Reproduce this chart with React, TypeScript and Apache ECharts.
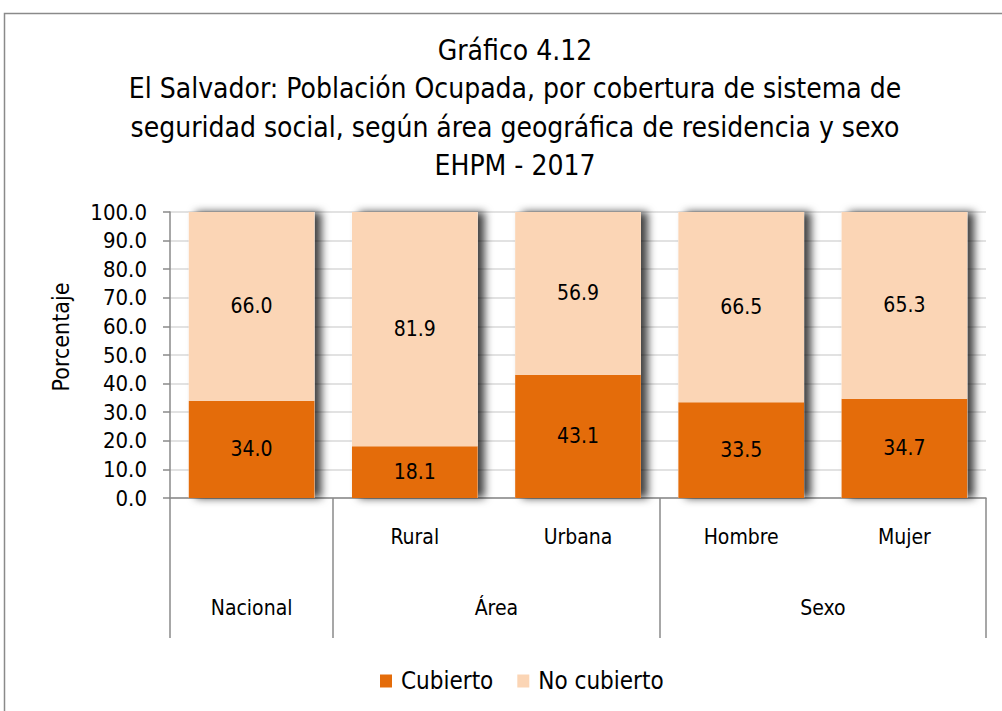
import React, { useEffect, useRef } from "react";
import * as echarts from "echarts";

const categories = ["Nacional", "Rural", "Urbana", "Hombre", "Mujer"];
const subLabels = ["", "Rural", "Urbana", "Hombre", "Mujer"];
const groups = ["Nacional", "Área", "Sexo"];
const groupSpans = [1, 2, 2];
const cubierto = [34.0, 18.1, 43.1, 33.5, 34.7];
const noCubierto = [66.0, 81.9, 56.9, 66.5, 65.3];
const yTicks = [0, 10, 20, 30, 40, 50, 60, 70, 80, 90, 100];
const titleLines = [
  "Gráfico 4.12",
  "El Salvador: Población Ocupada, por cobertura de sistema de",
  "seguridad social, según área geográfica de residencia y sexo",
  "EHPM - 2017",
];

const FONT = "'Liberation Sans Narrow', 'DejaVu Sans Condensed', 'Roboto', sans-serif";

export default function App() {
  const ref = useRef<HTMLDivElement>(null);
  useEffect(() => {
    if (!ref.current) return;
    const chart = echarts.init(ref.current, null, { renderer: "svg" });

    const bounds: number[] = [0];
    groupSpans.forEach((s) => bounds.push(bounds[bounds.length - 1] + s));
    const centers = groupSpans.map((s, i) => bounds[i] + s / 2);
    const totals = cubierto.map((v, i) => +(v + noCubierto[i]).toFixed(1));

    const labelCfg = {
      show: true,
      position: "inside",
      fontSize: 21,
      color: "#000",
      fontFamily: FONT,
      formatter: (p: any) => Number(p.value).toFixed(1),
    };

    chart.setOption({
      animation: false,
      textStyle: { fontFamily: FONT },
      graphic: [
        {
          type: "rect",
          shape: { x: 4.5, y: 13.5, width: 1100, height: 800 },
          style: { fill: "none", stroke: "#8a8a8a", lineWidth: 1.5 },
          silent: true,
        },
        {
          type: "text",
          x: 515,
          y: 31,
          style: {
            text: titleLines.join("\n"),
            textAlign: "center",
            fontFamily: FONT,
            fontSize: 28,
            lineHeight: 38.5,
            fill: "#000",
          },
        },
      ],
      legend: {
        data: ["Cubierto", "No cubierto"],
        left: 375,
        top: 664,
        icon: "rect",
        itemWidth: 12,
        itemHeight: 13,
        itemGap: 24,
        textStyle: { fontFamily: FONT, fontSize: 24, color: "#000", padding: [0, 0, 0, 4] },
      },
      grid: { left: 170, top: 212, right: 16, bottom: 213, containLabel: false },
      xAxis: [
        {
          type: "category",
          data: subLabels,
          axisLine: { lineStyle: { color: "#8a8a8a", width: 1.5 } },
          axisTick: { length: 67, interval: 0, lineStyle: { color: "#8a8a8a", width: 1.5 } },
          axisLabel: {
            interval: 0,
            margin: 28,
            fontSize: 21,
            color: "#000",
            fontFamily: FONT,
          },
        },
        {
          type: "value",
          min: 0,
          max: categories.length,
          position: "bottom",
          axisLine: { show: false },
          splitLine: { show: false },
          axisTick: {
            show: true,
            length: 140,
            customValues: bounds,
            lineStyle: { color: "#8a8a8a", width: 1.5 },
          },
          axisLabel: {
            show: true,
            margin: 99,
            fontSize: 21,
            color: "#000",
            fontFamily: FONT,
            customValues: centers,
            formatter: (v: number) => {
              const i = centers.findIndex((c) => Math.abs(c - v) < 1e-6);
              return i >= 0 ? groups[i] : "";
            },
          },
        },
      ],
      yAxis: {
        type: "value",
        min: 0,
        max: 100,
        interval: 10,
        name: "Porcentaje",
        nameLocation: "middle",
        nameGap: 98,
        nameTextStyle: { fontSize: 23, color: "#000", fontFamily: FONT, padding: [0, 0, 0, 36] },
        axisLine: { show: true, lineStyle: { color: "#8a8a8a", width: 1.5 } },
        axisTick: { show: true, length: 7, lineStyle: { color: "#8a8a8a", width: 1.5 } },
        splitLine: { lineStyle: { color: "#d9d9d9", width: 1.5 } },
        axisLabel: {
          margin: 23,
          fontSize: 22,
          color: "#000",
          fontFamily: FONT,
          formatter: (v: number) => (yTicks.includes(v) ? v.toFixed(1) : ""),
        },
      },
      series: [
        {
          name: "sombra",
          type: "bar",
          xAxisIndex: 0,
          barCategoryGap: "23%",
          barGap: "-100%",
          data: totals,
          silent: true,
          z: 1,
          itemStyle: {
            color: "#ffffff",
            shadowColor: "rgba(0,0,0,0.75)",
            shadowBlur: 8,
            shadowOffsetX: 7,
            shadowOffsetY: 0,
          },
          label: { show: false },
          tooltip: { show: false },
        },
        {
          name: "Cubierto",
          type: "bar",
          stack: "total",
          xAxisIndex: 0,
          barCategoryGap: "23%",
          barGap: "-100%",
          z: 3,
          data: cubierto,
          itemStyle: { color: "#E46C0A" },
          label: labelCfg,
        },
        {
          name: "No cubierto",
          type: "bar",
          stack: "total",
          xAxisIndex: 0,
          barCategoryGap: "23%",
          barGap: "-100%",
          z: 3,
          data: noCubierto,
          itemStyle: { color: "#FBD5B5" },
          label: labelCfg,
        },
      ],
    });
    return () => chart.dispose();
  }, []);
  return (
    <div
      ref={ref}
      style={{ position: "fixed", left: 0, top: 0, width: 1002, height: 711, background: "#fff" }}
    />
  );
}
